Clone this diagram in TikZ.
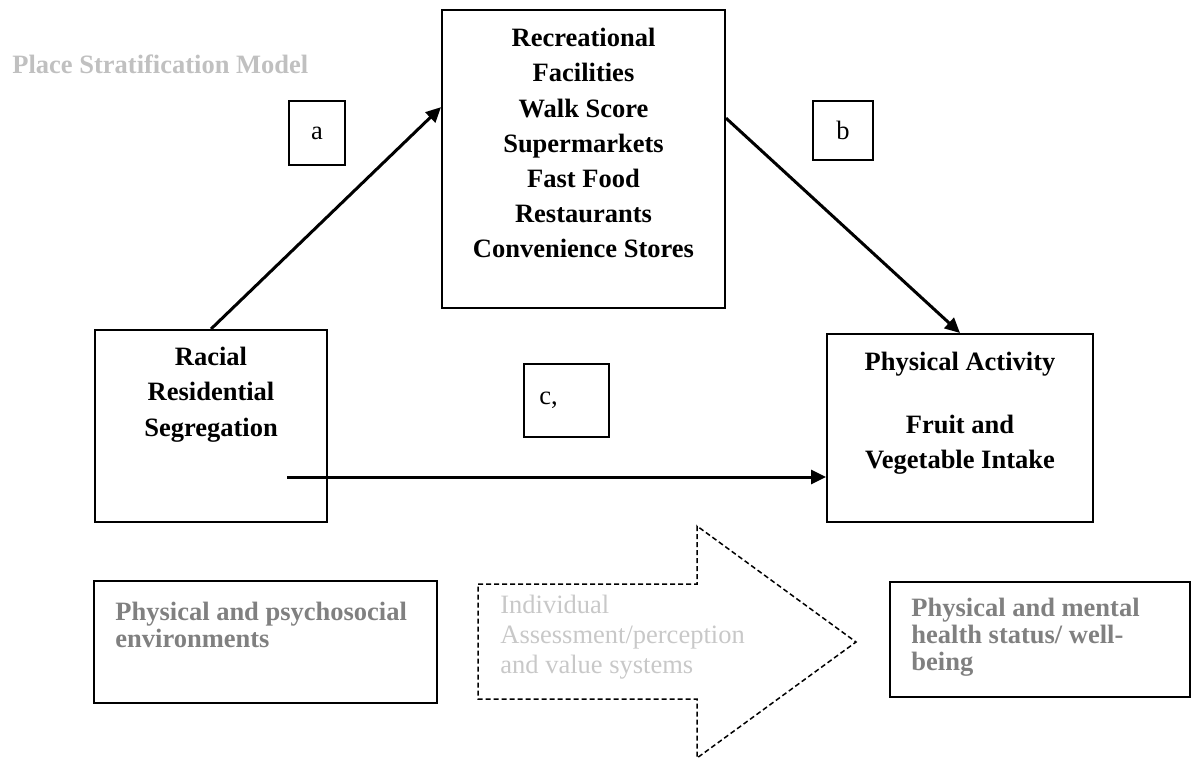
\documentclass[tikz,border=0pt]{standalone}
\usepackage{fontspec}
\setmainfont{Liberation Serif}
\usetikzlibrary{arrows.meta,positioning,fit}
\definecolor{greytitle}{RGB}{192,192,192}
\definecolor{greymid}{RGB}{128,128,128}
\definecolor{greylight}{RGB}{200,200,200}

\begin{document}
\begin{tikzpicture}[x=0.5pt,y=-0.5pt]
\tikzset{
  framebox/.style={rectangle,draw=black,line width=1pt,inner sep=0pt},
  tagbox/.style={rectangle,draw=black,line width=0.8pt,inner sep=0pt,font=\fontsize{13.25}{16}\selectfont},
  boldtext/.style={inner sep=0pt,align=center,font=\fontsize{13.25}{17.6}\selectfont\bfseries},
  greytext/.style={inner sep=0pt,align=left,text=greymid,font=\fontsize{13.25}{13.5}\selectfont\bfseries},
  lighttext/.style={inner sep=0pt,align=left,text=greylight,font=\fontsize{13.25}{15}\selectfont},
  directed/.style={draw=black,line width=1.5pt,-{Triangle[length=7.5pt,width=7pt]}},
  dashedarrow/.style={draw=black,line width=0.75pt,dash pattern=on 2.5pt off 1.5pt}
}
\useasboundingbox (0,0) rectangle (1192,761);
\node[inner sep=0pt,anchor=base west,text=greytitle,font=\fontsize{13.25}{16}\selectfont\bfseries] (n_title) at (12,73) {Place Stratification Model};
\node[framebox,fit={(442,10) (725,308)}] (n_env) {};
\node[framebox,fit={(95,330) (327,522)}] (n_seg) {};
\node[framebox,fit={(827,334) (1093,522)}] (n_out) {};
\node[framebox,fit={(94,581) (437,703)}] (n_phys) {};
\node[framebox,fit={(890,582) (1190,697)}] (n_health) {};
\node[boldtext,anchor=north] (t_env) at (583.5,28) {Recreational\\Facilities\\Walk Score\\Supermarkets\\Fast Food\\Restaurants\\Convenience Stores};
\node[boldtext,anchor=north] (t_seg) at (211,347) {Racial\\Residential\\Segregation};
\node[boldtext,anchor=north] (t_out) at (960,352) {Physical Activity\\[13.5pt]Fruit and\\Vegetable Intake};
\node[greytext,anchor=north west] (t_phys) at (115,602) {Physical and psychosocial\\environments};
\node[greytext,anchor=north west] (t_health) at (911,598) {Physical and mental\\health status/ well-\\being};
\draw[dashedarrow] (478,584) -- (697,584) -- (697,526) -- (856,642) -- (697,758) -- (697,699) -- (478,699) -- cycle;
\node[lighttext,anchor=north west] (t_indiv) at (500,595) {Individual\\Assessment/perception\\and value systems};
\node[tagbox,minimum width=28pt,minimum height=32pt] (tag_a) at (317,133) {a};
\node[tagbox,minimum width=30pt,minimum height=29.5pt] (tag_b) at (843,130.5) {b};
\node[tagbox,minimum width=42.5pt,minimum height=36.5pt] (tag_c) at (566.5,400.5) {c,\kern18pt};
\coordinate (c_start) at (287,477);
\draw[directed] (n_seg.north) -- (n_env.160);
\draw[directed] (n_env.16.5) -- (n_out.north);
\draw[directed] (c_start) -- (c_start -| n_out.west);
\end{tikzpicture}
\end{document}
